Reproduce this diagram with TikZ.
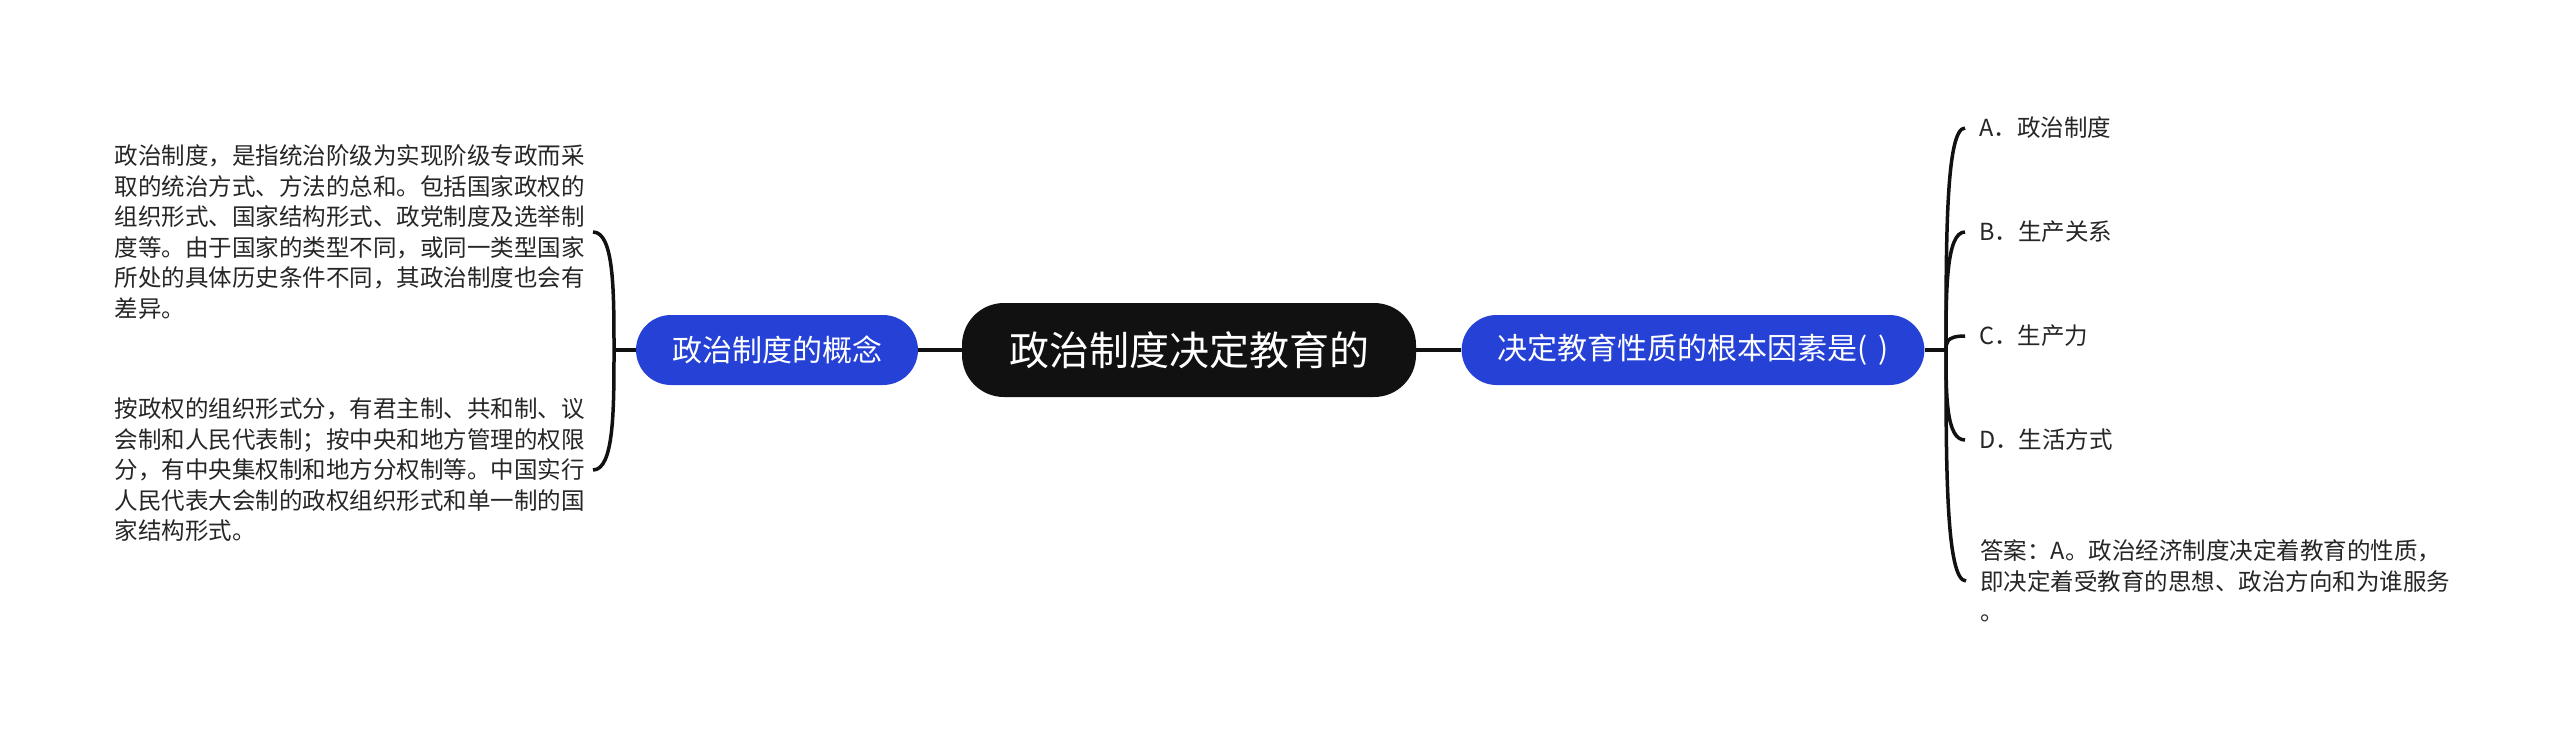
\documentclass[tikz,border=0pt]{standalone}
\usepackage{fontspec}
\setmainfont{Noto Sans CJK SC}
\usepackage{xcolor,tikz}
\usetikzlibrary{calc}
\definecolor{topicblue}{RGB}{38,66,214}
\definecolor{rootblack}{RGB}{17,17,17}
\definecolor{inktext}{RGB}{38,38,38}

\begin{document}
\begin{tikzpicture}[x=1pt,y=-1pt,
 root/.style={fill=rootblack,text=white,rounded corners=42pt,minimum height=94pt,
 inner xsep=47pt,font=\fontsize{40pt}{48pt}\selectfont},
 topic/.style={fill=topicblue,text=white,rounded corners=35pt,minimum height=70pt,
 inner xsep=36pt,font=\fontsize{30pt}{36pt}\selectfont},
 leaf/.style={text=inktext,align=left,inner ysep=0pt,font=\fontsize{23.5pt}{30.5pt}\selectfont},
 link/.style={line width=3.5pt,draw=rootblack}]
\fill[white] (0,0) rectangle (2560,731);
\useasboundingbox (0,0) rectangle (2560,731);
\node[root] (root) at (1189,350) {政治制度决定教育的};
\node[topic] (concept) at (777,350) {政治制度的概念};
\node[topic] (question) at (1693,350) {决定教育性质的根本因素是(\hspace{.35em})};
\coordinate (ljun) at (614,350);
\coordinate (rjun) at (1946,350);
\node[leaf,anchor=east,inner xsep=8pt] (def) at (593,232) {政治制度，是指统治阶级为实现阶级专政而采\\
取的统治方式、方法的总和。包括国家政权的\\
组织形式、国家结构形式、政党制度及选举制\\
度等。由于国家的类型不同，或同一类型国家\\
所处的具体历史条件不同，其政治制度也会有\\
差异。};
\node[leaf,anchor=east,inner xsep=8pt] (kinds) at (593,470) {按政权的组织形式分，有君主制、共和制、议\\
会制和人民代表制；按中央和地方管理的权限\\
分，有中央集权制和地方分权制等。中国实行\\
人民代表大会制的政权组织形式和单一制的国\\
家结构形式。};
\node[leaf,anchor=west,inner xsep=14pt] (optA) at (1965,128) {A．政治制度};
\node[leaf,anchor=west,inner xsep=14pt] (optB) at (1965,232) {B．生产关系};
\node[leaf,anchor=west,inner xsep=14pt] (optC) at (1965,336) {C．生产力};
\node[leaf,anchor=west,inner xsep=14pt] (optD) at (1965,440) {D．生活方式};
\node[leaf,anchor=west,inner xsep=14pt] (answer) at (1966,581) {答案：A。政治经济制度决定着教育的性质，\\
即决定着受教育的思想、政治方向和为谁服务\\
。};
\draw[link] (root) -- (concept);
\draw[link] (root) -- (question);
\draw[link] (concept) -- (ljun);
\draw[link] (question) -- (rjun);
\foreach \n in {def,kinds}
 \draw[link] (ljun) .. controls ($(ljun)!.5!(ljun |- \n.east)$) and (ljun |- \n.east) .. (\n.east);
\foreach \n in {optA,optB,optC,optD,answer}
 \draw[link] (rjun) .. controls ($(rjun)!.5!(rjun |- \n.west)$) and (rjun |- \n.west) .. (\n.west);
\end{tikzpicture}
\end{document}
